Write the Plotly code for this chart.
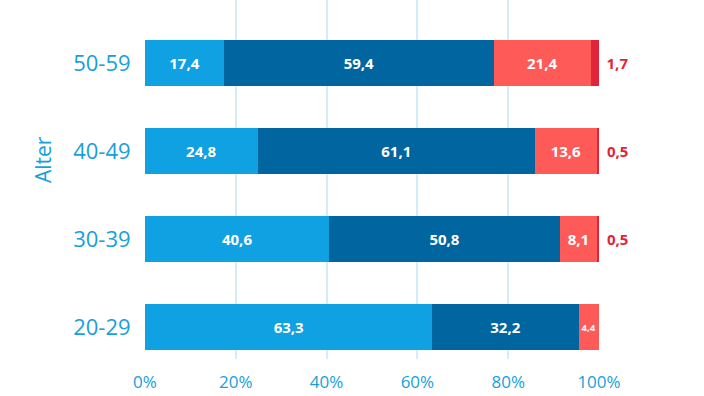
import plotly.graph_objects as go

categories = ["20-29", "30-39", "40-49", "50-59"]
s1 = [63.3, 40.6, 24.8, 17.4]
s2 = [32.2, 50.8, 61.1, 59.4]
s3 = [4.4, 8.1, 13.6, 21.4]
s4 = [None, 0.5, 0.5, 1.7]
x_ticks = [0, 20, 40, 60, 80, 100]
x_tick_labels = ["0%", "20%", "40%", "60%", "80%", "100%"]

colors = ["#0fa1e2", "#01669f", "#fe5a58", "#e0253a"]

def fmt(v):
    return "" if v is None else f"{v:.1f}".replace(".", ",")

fig = go.Figure()
for vals, col in zip([s1, s2, s3], colors[:3]):
    fig.add_trace(go.Bar(
        y=categories, x=vals, orientation="h",
        marker=dict(color=col, line=dict(width=0)),
        text=[fmt(v) for v in vals], textposition="inside",
        insidetextanchor="middle", textangle=0,
        textfont=dict(family="Open Sans", size=15, color="white", weight="bold"),
        width=0.52, cliponaxis=False, hoverinfo="skip",
    ))
fig.add_trace(go.Bar(
    y=categories, x=s4, orientation="h",
    marker=dict(color=colors[3], line=dict(width=0)),
    text=[("\u2004" + fmt(v)) if v is not None else "" for v in s4],
    textposition="outside", textangle=0,
    textfont=dict(family="Open Sans", size=15, color="#e0253a", weight="bold"),
    width=0.52, cliponaxis=False, hoverinfo="skip",
))

fig.update_layout(
    barmode="stack",
    width=704, height=396,
    margin=dict(l=145, r=105, t=0, b=37, autoexpand=False),
    paper_bgcolor="white", plot_bgcolor="white",
    showlegend=False,
    font=dict(family="Open Sans", color="#16a0dc"),
    xaxis=dict(
        range=[0, 100], tickvals=x_ticks, ticktext=x_tick_labels,
        showgrid=True, gridcolor="#d3ecf8", gridwidth=2,
        zeroline=False, showline=False, automargin=False,
        ticks="outside", ticklen=8, tickcolor="rgba(0,0,0,0)",
        tickfont=dict(size=17, color="#16a0dc"),
        fixedrange=True,
    ),
    yaxis=dict(
        range=[-0.364, 3.716], type="category", automargin=False,
        showgrid=False, zeroline=False, showline=False,
        ticks="outside", ticklen=9, tickcolor="rgba(0,0,0,0)",
        tickfont=dict(size=22, color="#16a0dc"),
        fixedrange=True,
    ),
    annotations=[dict(
        text="Alter", xref="paper", yref="paper",
        x=-0.2247, y=0.557, xanchor="center", yanchor="middle",
        textangle=-90, showarrow=False,
        font=dict(family="Open Sans", size=21, color="#16a0dc"),
    )],
)
fig.write_html(
    "out.html",
    config={"displayModeBar": False},
    post_script="document.body.style.margin='0';",
)
